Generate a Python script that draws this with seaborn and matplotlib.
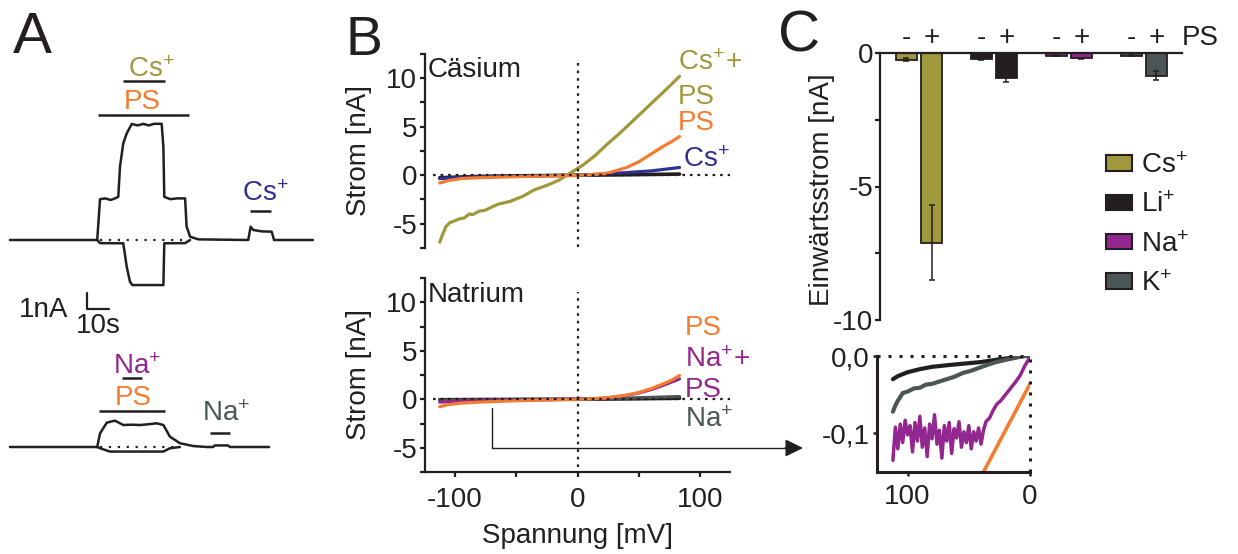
import matplotlib
matplotlib.use("Agg")
import matplotlib.pyplot as plt
import seaborn as sns
import pandas as pd
from matplotlib.patches import Patch
from matplotlib.lines import Line2D
from matplotlib.ticker import MultipleLocator, FixedLocator, FuncFormatter

# ---------------- Panel A: current traces (time [s], current [nA]) ----------------
cs_trace_t = [4.6, 44.8, 46.1, 48.5, 51.0, 53.0, 54.5, 55.3, 56.8, 58.4, 60.7, 63.5, 66.0, 68.5,
              71.0, 74.5, 75.3, 75.7, 78.5, 81.5, 85.3, 86.0, 87.6, 91.4, 114.4, 115.5, 116.7,
              120.5, 125.2, 126.3, 144.2]
cs_trace_i = [0, 0, 2.6, 2.65, 2.55, 2.65, 2.75, 4.67, 6.16, 6.79, 7.39, 7.3, 7.4, 7.3,
              7.4, 7.4, 5.9, 2.75, 2.6, 2.65, 2.65, 0.85, 0.21, 0.04, 0, 0.85, 0.64,
              0.55, 0.53, 0, 0]
cs_neg_t = [44.8, 46.1, 56.8, 58.4, 59.9, 61.0, 75.3, 75.7, 85.3, 87.6]
cs_neg_i = [0, -0.2, -0.21, -1.7, -2.66, -2.87, -2.87, -0.21, -0.2, 0]

na_trace_t = [4.6, 44.8, 46.1, 49.2, 53.0, 56.8, 60.5, 64.5, 68.5, 72.2, 75.3, 78.3, 82.9,
              89.1, 95.3, 98.2, 99.0, 105.0, 106.0, 124.0]
na_trace_i = [0, 0, 0.87, 1.55, 1.68, 1.4, 1.42, 1.4, 1.45, 1.51, 1.4, 0.66, 0.24,
              0.06, 0, 0, 0.1, 0.1, 0, 0]
na_neg_t = [44.8, 46.1, 50.7, 75.3, 78.3, 82.9]
na_neg_i = [0, -0.08, -0.29, -0.29, -0.08, 0]

# ---------------- Panel B: I-V curves (voltage [mV], current [nA]) ----------------
v_cs_ps = [-112, -110, -107, -104, -100, -96, -92, -88, -85, -80, -75, -65, -55, -45, -35,
           -25, -15, -5, 5, 15, 25, 35, 45, 55, 65, 75, 83]
i_cs_ps = [-6.9, -6.2, -5.3, -4.9, -4.7, -4.5, -4.4, -4.0, -4.05, -3.7, -3.6, -3.0, -2.7,
           -2.2, -1.5, -1.05, -0.5, 0.3, 1.1, 2.1, 3.3, 4.4, 5.6, 6.8, 8.0, 9.2, 10.2]
v_ps_c = [-112, -105, -95, -80, -60, -40, -20, 0, 10, 20, 25, 30, 40, 50, 60, 70, 77, 83]
i_ps_c = [-0.8, -0.55, -0.35, -0.25, -0.18, -0.12, -0.06, 0, 0.05, 0.15, 0.25, 0.42, 0.8,
          1.4, 2.2, 3.0, 3.5, 4.0]
v_cs = [-112, -100, -80, -50, -20, 0, 20, 40, 60, 83]
i_cs = [-0.35, -0.25, -0.15, -0.08, -0.03, 0, 0.12, 0.28, 0.45, 0.8]
v_ctl_c = [-112, -80, -40, 0, 40, 83]
i_ctl_c = [-0.25, -0.12, -0.05, 0, 0.05, 0.12]

v_ps_n = [-112, -105, -95, -80, -60, -40, -20, 0, 10, 20, 30, 40, 50, 60, 70, 77, 83]
i_ps_n = [-0.77, -0.55, -0.4, -0.3, -0.2, -0.12, -0.06, 0, 0.04, 0.1, 0.25, 0.42, 0.7,
          1.1, 1.6, 2.0, 2.45]
v_na_ps = [-112, -100, -80, -60, -40, -20, 0, 20, 30, 40, 50, 60, 70, 77, 83]
i_na_ps = [-0.3, -0.22, -0.15, -0.1, -0.07, -0.03, 0, 0.1, 0.22, 0.4, 0.65, 1.0, 1.45, 1.8, 2.1]
v_na = [-112, -80, -40, 0, 40, 83]
i_na = [-0.1, -0.07, -0.03, 0, 0.12, 0.28]
v_ctl_n = [-112, -80, -40, 0, 40, 83]
i_ctl_n = [-0.05, -0.03, -0.01, 0, 0.04, 0.1]

# ---------------- Panel C inset: magnified inward currents ----------------
ins_black_v = [-112, -108, -100, -90, -80, -68, -55, -41, -28, -14, -5, 0]
ins_black_i = [-0.030, -0.026, -0.021, -0.017, -0.014, -0.012, -0.010, -0.008, -0.005,
               -0.002, 0.0, 0.0]
ins_gray_v = [-112, -110, -108, -104, -100, -95, -90, -85, -80, -74, -68, -62, -55, -48,
              -41, -34, -28, -20, -14, -8, -4, 0]
ins_gray_i = [-0.072, -0.064, -0.058, -0.048, -0.046, -0.042, -0.041, -0.037, -0.036,
              -0.033, -0.030, -0.027, -0.022, -0.019, -0.015, -0.011, -0.008, -0.005,
              -0.003, -0.001, 0.0, 0.0]
ins_purple_v = [-112, -110, -108, -106, -104, -102, -100, -98, -96, -94, -92, -90, -88, -86,
                -84, -82, -80, -78, -76, -74, -72, -70, -68, -66, -64, -62, -60, -58, -56,
                -54, -52, -50, -48, -46, -44, -42, -40, -38, -36, -33, -30, -27, -24, -20,
                -16, -12, -8, -4, -1]
ins_purple_i = [-0.135, -0.092, -0.120, -0.088, -0.112, -0.083, -0.102, -0.090, -0.124,
                -0.086, -0.110, -0.078, -0.118, -0.093, -0.130, -0.088, -0.107, -0.076,
                -0.114, -0.096, -0.132, -0.090, -0.110, -0.086, -0.126, -0.094, -0.106,
                -0.085, -0.118, -0.098, -0.112, -0.090, -0.120, -0.098, -0.110, -0.093,
                -0.114, -0.096, -0.085, -0.080, -0.070, -0.062, -0.058, -0.050, -0.042,
                -0.034, -0.025, -0.012, -0.004]
ins_orange_v = [-45, 0]
ins_orange_i = [-0.171, -0.036]

# ---------------- Panel C: bar chart ----------------
ions = ['Cs', 'Li', 'Na', 'K']
ion_labels = [r'$\mathregular{Cs^{+}}$', r'$\mathregular{Li^{+}}$',
              r'$\mathregular{Na^{+}}$', r'$\mathregular{K^{+}}$']
i_minus = [-0.25, -0.22, -0.10, -0.10]
i_plus = [-7.1, -0.95, -0.20, -0.85]
err_minus = [0.05, 0.03, 0.02, 0.02]
err_plus = [1.4, 0.12, 0.03, 0.16]
ps_levels = ['-', '+']

# ---------------- style ----------------
OLIVE = '#a0993c'
ORANGE = '#f47c30'
BLUE = '#2e3192'
PURPLE = '#92278f'
GRAY = '#4b5756'
BLACK = '#231f20'
ion_colors = [OLIVE, BLACK, PURPLE, GRAY]

CS = r'$\mathregular{Cs^{+}}$'
NA = r'$\mathregular{Na^{+}}$'

sns.set_style('ticks')
plt.rcParams.update({
    'font.family': ['Liberation Sans', 'DejaVu Sans'],
    'font.size': 20,
    'mathtext.fontset': 'custom',
    'mathtext.rm': 'Liberation Sans',
    'mathtext.it': 'Liberation Sans:italic',
    'mathtext.bf': 'Liberation Sans:bold',
    'axes.unicode_minus': False,
    'axes.linewidth': 1.6,
    'axes.edgecolor': BLACK,
    'text.color': BLACK,
    'xtick.color': BLACK,
    'ytick.color': BLACK,
    'axes.labelcolor': BLACK,
    'axes.facecolor': 'none',
})

W, H = 1238, 554
fig = plt.figure(figsize=(W / 100, H / 100), dpi=100)


def rect(x0, y0, x1, y1):
    return [x0 / W, 1 - y1 / H, (x1 - x0) / W, (y1 - y0) / H]


def P(x, y):
    return (x / W, 1 - y / H)


def ftext(x, y, s, color=BLACK, size=20, ha='left', va='baseline'):
    fig.text(x / W, 1 - y / H, s, color=color, fontsize=size, ha=ha, va=va)


def line(ax, x, y, color, lw):
    sns.lineplot(x=x, y=y, ax=ax, color=color, linewidth=lw, sort=False,
                 estimator=None, legend=False)


# ---------------- Panel A ----------------
PX_S, PX_NA = 2.17, 15.7
axA1 = fig.add_axes(rect(0, 0, 320, 340))
axA1.set_xlim(0, 320 / PX_S)
axA1.set_ylim(-(340 - 240) / PX_NA, 240 / PX_NA)
axA2 = fig.add_axes(rect(0, 340, 320, 554))
axA2.set_xlim(0, 320 / PX_S)
axA2.set_ylim(-(554 - 447) / PX_NA, (447 - 340) / PX_NA)

line(axA1, cs_trace_t, cs_trace_i, BLACK, 1.8)
line(axA1, cs_neg_t, cs_neg_i, BLACK, 1.8)
axA1.plot([46.1, 85.3], [0, 0], color=BLACK, lw=1.6, ls=(0, (1, 3.0)))
line(axA2, na_trace_t, na_trace_i, BLACK, 1.8)
line(axA2, na_neg_t, na_neg_i, BLACK, 1.8)
axA2.plot([46.1, 80.0], [0, 0], color=BLACK, lw=1.6, ls=(0, (1, 3.0)))

# stimulus bars
for ax, (t0, t1, lvl) in [(axA1, (56.7, 76.0, 10.1)), (axA1, (45.2, 87.1, 7.96)),
                          (axA1, (115.2, 124.9, 1.85)), (axA2, (56.2, 65.4, 4.4)),
                          (axA2, (45.6, 76.0, 2.3)), (axA2, (96.8, 106.0, 0.9))]:
    ax.plot([t0, t1], [lvl, lvl], color=BLACK, lw=1.8, solid_capstyle='butt')
# scale bar 1 nA / 10 s
axA1.plot([40, 40, 50], [-3.39, -4.39, -4.39], color=BLACK, lw=1.6)
for ax in (axA1, axA2):
    ax.set_axis_off()

ftext(13, 53, 'A', size=42)
ftext(127.7, 77.3, CS, OLIVE)
ftext(123.3, 109.3, 'PS', ORANGE)
ftext(242, 201, CS, BLUE)
ftext(68, 317, '1nA', ha='right')
ftext(98.5, 333, '10s', ha='center')
ftext(113.3, 374, NA, PURPLE)
ftext(115, 405, 'PS', ORANGE)
ftext(202, 420.7, NA, GRAY)

# ---------------- Panel B ----------------
axB1 = fig.add_axes(rect(425, 54, 730, 248))
axB2 = fig.add_axes(rect(425, 278, 730, 472))
line(axB1, v_ctl_c, i_ctl_c, BLACK, 2.6)
line(axB1, v_cs, i_cs, BLUE, 2.3)
line(axB1, v_cs_ps, i_cs_ps, OLIVE, 2.3)
line(axB1, v_ps_c, i_ps_c, ORANGE, 2.3)
line(axB2, v_ctl_n, i_ctl_n, BLACK, 2.6)
line(axB2, v_na, i_na, GRAY, 2.3)
line(axB2, v_na_ps, i_na_ps, PURPLE, 2.3)
line(axB2, v_ps_n, i_ps_n, ORANGE, 2.3)

for ax, (ymn, ymx) in [(axB1, (0.005, 0.969)), (axB2, (0.026, 0.928))]:
    ax.set_xlim(-124, 124)
    ax.set_ylim(-7.5, 12.5)
    ax.axvline(0, ymin=ymn, ymax=ymx, color=BLACK, lw=1.6, ls=(0, (1.2, 2.2)))
    ax.axhline(0, xmin=(433 - 425) / 305, xmax=1, color=BLACK, lw=1.6, ls=(0, (1.2, 2.2)))
    ax.yaxis.set_major_locator(MultipleLocator(5))
    ax.yaxis.set_minor_locator(MultipleLocator(2.5))
    ax.tick_params(axis='y', which='both', direction='out', length=3.5, width=1.6,
                   labelsize=20, pad=2)
    ax.set_ylabel('Strom [nA]', fontsize=20)
    ax.yaxis.set_label_coords(-0.174, 0.5)
    for s in ('top', 'right'):
        ax.spines[s].set_visible(False)
    ax.set_xlabel('')

axB1.spines['bottom'].set_visible(False)
axB1.tick_params(axis='x', which='both', bottom=False, labelbottom=False)
axB2.xaxis.set_major_locator(FixedLocator([-100, 0, 100]))
axB2.xaxis.set_minor_locator(FixedLocator([-50, 50]))
axB2.tick_params(axis='x', which='both', direction='out', length=3.5, width=1.6,
                 labelsize=20, pad=7)
axB2.set_xlabel('Spannung [mV]', fontsize=20)
axB2.xaxis.set_label_coords(0.5, -0.265)

ftext(345, 55, 'B', size=40)
ftext(428, 76.7, 'Cäsium')
ftext(428, 301.7, 'Natrium')
ftext(678, 70, r'$\mathregular{Cs^{+}\!+}$', OLIVE)
ftext(678, 104, 'PS', OLIVE)
ftext(678, 130, 'PS', ORANGE)
ftext(683, 167, CS, BLUE)
ftext(685, 335, 'PS', ORANGE)
ftext(685, 366.7, r'$\mathregular{Na^{+}\!+}$', PURPLE)
ftext(685, 397, 'PS', PURPLE)
ftext(685, 426.7, NA, GRAY)

# connector arrow to inset
fig.add_artist(Line2D([492 / W, 492 / W], [1 - 408 / H, 1 - 448 / H], color=BLACK, lw=1.0))
fig.add_artist(Line2D([492 / W, 790 / W], [1 - 448 / H, 1 - 448 / H], color=BLACK, lw=1.0))
axB2.annotate('', xy=P(803, 448), xytext=P(785, 448), xycoords='figure fraction',
              textcoords='figure fraction',
              arrowprops=dict(arrowstyle='-|>,head_length=0.55,head_width=0.27',
                              color=BLACK, lw=1.0, mutation_scale=20, shrinkA=0, shrinkB=0))

# ---------------- Panel C ----------------
axC = fig.add_axes(rect(880, 53, 1182, 320))
df = pd.DataFrame({'Ion': ions * 2,
                   'PS': [ps_levels[0]] * 4 + [ps_levels[1]] * 4,
                   'Strom': i_minus + i_plus})
sns.barplot(data=df, x='Ion', y='Strom', hue='PS', order=ions, hue_order=ps_levels,
            width=0.667, gap=0.135, errorbar=None, legend=False, ax=axC,
            edgecolor=BLACK, linewidth=1.3, saturation=1)
for p in axC.patches:
    cx = p.get_x() + p.get_width() / 2
    p.set_facecolor(ion_colors[int(round(cx))])

off = 0.667 / 4
pos_minus = [i - off for i in range(4)]
pos_plus = [i + off for i in range(4)]
axC.errorbar(pos_minus + pos_plus, i_minus + i_plus, yerr=err_minus + err_plus, fmt='none',
             ecolor=BLACK, elinewidth=1.1, capsize=2.5, capthick=1.1, zorder=5)

axC.set_xlim(-0.52, 3.507)
axC.set_ylim(-10, 0)
axC.spines['right'].set_visible(False)
axC.spines['bottom'].set_visible(False)
axC.yaxis.set_major_locator(MultipleLocator(5))
axC.yaxis.set_minor_locator(MultipleLocator(2.5))
axC.tick_params(axis='y', which='both', direction='out', length=3.5, width=1.6,
                labelsize=20, pad=1.5)
axC.xaxis.set_ticks_position('top')
axC.set_xticks(sorted(pos_minus + pos_plus))
axC.set_xticklabels([ps_levels[0], ps_levels[1]] * 4)
axC.tick_params(axis='x', which='both', length=0, labelsize=20, pad=1.5,
                top=True, bottom=False, labeltop=True, labelbottom=False)
axC.set_xlabel('')
axC.set_ylabel('Einwärtsstrom [nA]', fontsize=20)
axC.yaxis.set_label_coords(-0.149, 0.487)

handles = [Patch(facecolor=c, edgecolor=BLACK, linewidth=1.5, label=l)
           for c, l in zip(ion_colors, ion_labels)]
axC.legend(handles=handles, loc='upper left', bbox_to_anchor=P(1106, 153),
           bbox_transform=fig.transFigure, frameon=False, fontsize=20,
           handlelength=0.95, handleheight=0.47, handletextpad=0.3,
           labelspacing=0.48, borderpad=0, borderaxespad=0)

ftext(778, 52, 'C', size=42)
ftext(1181.7, 45, 'PS')

# inset
axI = fig.add_axes(rect(877, 356, 1030, 472))
line(axI, ins_black_v, ins_black_i, BLACK, 3.0)
line(axI, ins_gray_v, ins_gray_i, GRAY, 3.0)
line(axI, ins_purple_v, ins_purple_i, PURPLE, 2.5)
line(axI, ins_orange_v, ins_orange_i, ORANGE, 2.6)
axI.set_xlim(-125, 0)
axI.set_ylim(-0.15, 0)
axI.axhline(0, color=BLACK, lw=2.2, ls=(0, (1, 2.6)), clip_on=False)
axI.axvline(0, color=BLACK, lw=2.2, ls=(0, (1, 2.6)), clip_on=False)
for s in ('top', 'right'):
    axI.spines[s].set_visible(False)
axI.spines['left'].set_linewidth(2.2)
axI.spines['bottom'].set_linewidth(2.2)
axI.xaxis.set_major_locator(FixedLocator([-100, 0]))
axI.xaxis.set_major_formatter(FuncFormatter(lambda v, p: f'{abs(v):.0f}'))
axI.yaxis.set_major_locator(FixedLocator([-0.1, 0.0]))
axI.yaxis.set_major_formatter(FuncFormatter(lambda v, p: f'{v:.1f}'.replace('.', ',')))
axI.tick_params(axis='both', direction='out', length=3, width=1.8, labelsize=20)
axI.tick_params(axis='x', pad=6)
axI.tick_params(axis='y', pad=2)
axI.set_xlabel('')
axI.set_ylabel('')

fig.savefig('out.png', dpi=100)
